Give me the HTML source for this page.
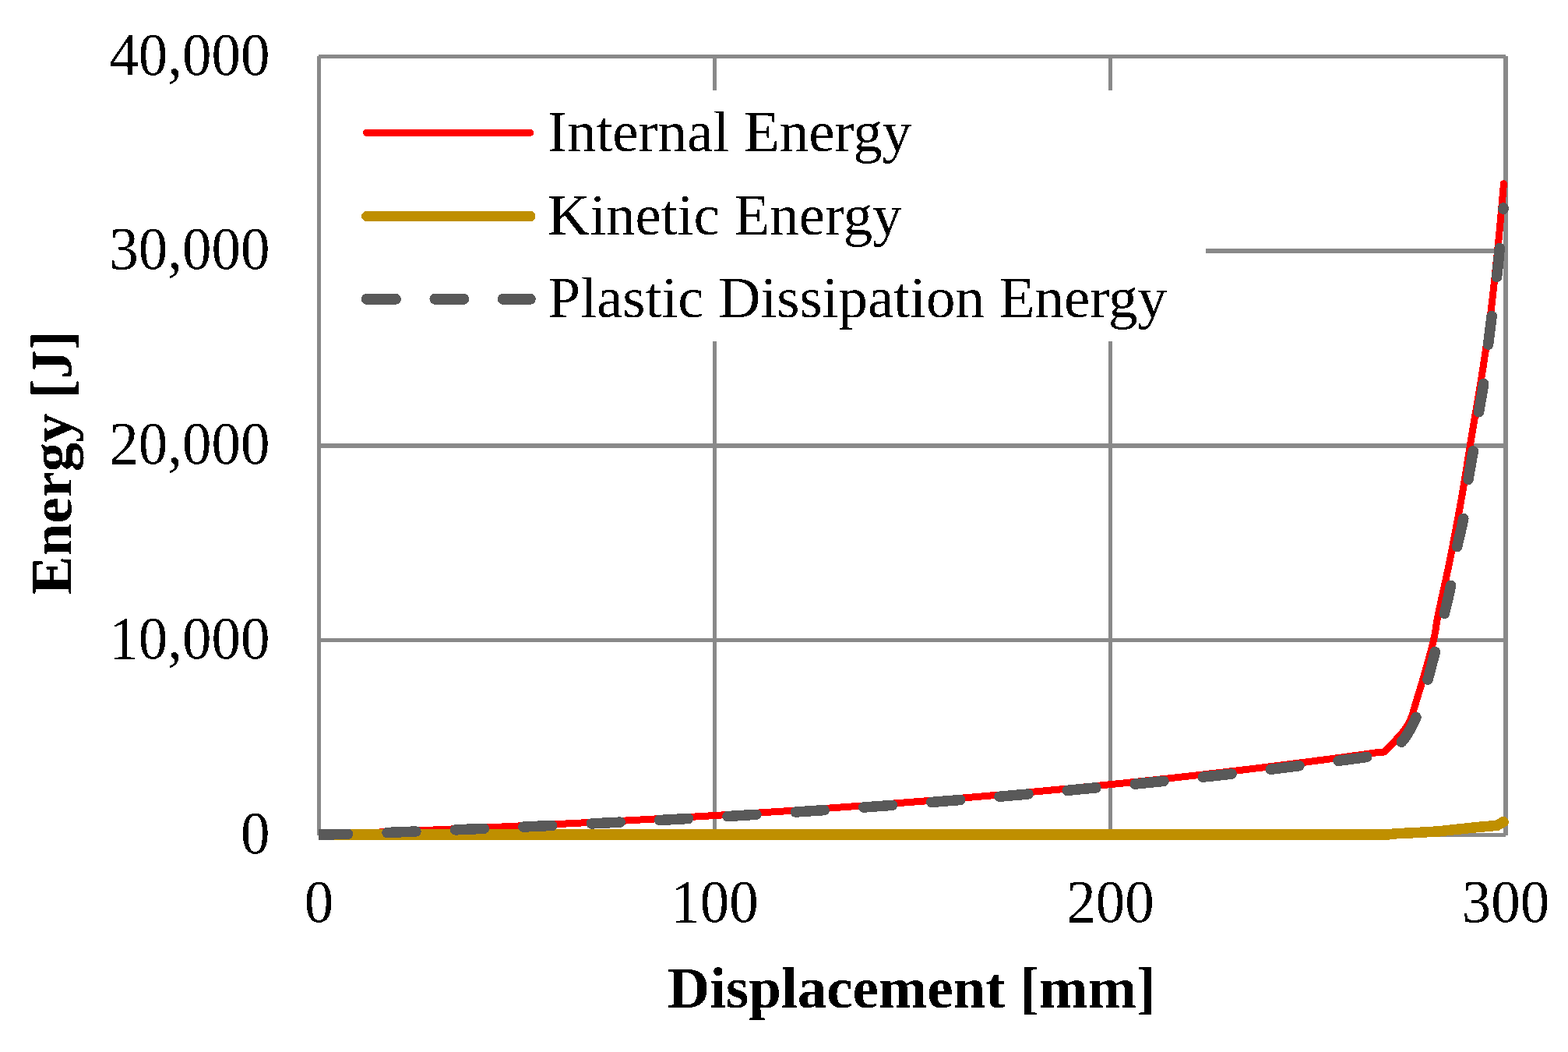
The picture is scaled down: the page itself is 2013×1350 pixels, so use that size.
<!DOCTYPE html>
<html><head><meta charset="utf-8"><title>Energy vs Displacement</title>
<style>html,body{margin:0;padding:0;background:#fff;}svg{display:block;}</style></head>
<body><svg width="2013" height="1350" viewBox="0 0 2013 1350">
<defs><filter id="crisp" x="0" y="0" width="2013" height="1350" filterUnits="userSpaceOnUse"><feComponentTransfer><feFuncA type="discrete" tableValues="0 1"/></feComponentTransfer></filter><clipPath id="pc"><rect x="409" y="0" width="1604" height="1350"/></clipPath></defs>
<rect width="2013" height="1350" fill="#fff"/>
<rect x="409" y="319" width="1524" height="6" fill="#898989"/>
<rect x="409" y="569" width="1524" height="6" fill="#898989"/>
<rect x="409" y="819" width="1524" height="5" fill="#898989"/>
<rect x="915" y="72" width="5" height="1000" fill="#898989"/>
<rect x="1423" y="72" width="5" height="1000" fill="#898989"/>
<rect x="409" y="70" width="1524" height="5" fill="#898989"/>
<rect x="409" y="1069" width="1524" height="5" fill="#898989"/>
<rect x="407" y="72" width="5" height="1000" fill="#898989"/>
<rect x="1930" y="72" width="6" height="1000" fill="#898989"/>
<rect x="412" y="116" width="1136" height="322" fill="#fff"/>
<g clip-path="url(#pc)" fill="none" stroke-linejoin="round" stroke-linecap="round" shape-rendering="crispEdges">
<polyline points="409.50,1071.25 421.50,1070.76 433.50,1070.26 445.50,1069.76 457.50,1069.26 469.50,1068.76 481.50,1068.25 493.50,1067.74 505.50,1067.23 517.50,1066.71 529.50,1066.19 541.50,1065.67 553.50,1065.14 565.50,1064.61 577.50,1064.07 589.50,1063.53 601.50,1062.99 613.50,1062.44 625.50,1061.88 637.50,1061.32 649.50,1060.76 661.50,1060.19 673.50,1059.62 685.50,1059.03 697.50,1058.45 709.50,1057.86 721.50,1057.26 733.50,1056.66 745.50,1056.05 757.50,1055.43 769.50,1054.81 781.50,1054.18 793.50,1053.54 805.50,1052.90 817.50,1052.25 829.50,1051.59 841.50,1050.92 853.50,1050.25 865.50,1049.57 877.50,1048.88 889.50,1048.19 901.50,1047.48 913.50,1046.77 925.50,1046.05 937.50,1045.32 949.50,1044.58 961.50,1043.84 973.50,1043.08 985.50,1042.31 997.50,1041.54 1009.50,1040.76 1021.50,1039.96 1033.50,1039.16 1045.50,1038.35 1057.50,1037.52 1069.50,1036.69 1081.50,1035.85 1093.50,1034.99 1105.50,1034.13 1117.50,1033.25 1129.50,1032.37 1141.50,1031.47 1153.50,1030.56 1165.50,1029.64 1177.50,1028.71 1189.50,1027.77 1201.50,1026.82 1213.50,1025.85 1225.50,1024.87 1237.50,1023.88 1249.50,1022.88 1261.50,1021.86 1273.50,1020.84 1285.50,1019.79 1297.50,1018.74 1309.50,1017.67 1321.50,1016.59 1333.50,1015.50 1345.50,1014.39 1357.50,1013.27 1369.50,1012.14 1381.50,1010.99 1393.50,1009.83 1405.50,1008.65 1417.50,1007.46 1429.50,1006.26 1441.50,1005.04 1453.50,1003.80 1465.50,1002.55 1477.50,1001.29 1489.50,1000.01 1501.50,998.71 1513.50,997.40 1525.50,996.07 1537.50,994.73 1549.50,993.37 1561.50,992.00 1573.50,990.61 1585.50,989.20 1597.50,987.78 1609.50,986.34 1621.50,984.88 1633.50,983.40 1645.50,981.91 1657.50,980.40 1669.50,978.88 1681.50,977.33 1693.50,975.77 1705.50,974.19 1717.50,972.60 1729.50,970.98 1741.50,969.35 1753.50,967.69 1765.50,966.02 1777.00,965.00 1778.38,963.60 1779.75,962.22 1781.12,960.87 1782.48,959.51 1783.85,958.15 1785.22,956.77 1786.60,955.35 1787.99,953.90 1789.39,952.38 1790.80,950.80 1792.54,948.84 1794.35,946.82 1796.21,944.74 1798.09,942.61 1799.96,940.42 1801.79,938.17 1803.57,935.86 1805.27,933.50 1806.85,931.08 1808.30,928.60 1809.65,925.96 1810.84,923.32 1811.89,920.64 1812.86,917.91 1813.76,915.10 1814.63,912.18 1815.51,909.14 1816.42,905.94 1817.41,902.57 1818.50,899.00 1820.49,892.57 1822.72,885.27 1825.11,877.29 1827.60,868.87 1830.10,860.23 1832.56,851.58 1834.90,843.14 1837.05,835.14 1838.94,827.78 1840.50,821.30 1841.27,817.82 1841.90,814.65 1842.44,811.71 1842.90,808.94 1843.32,806.25 1843.73,803.57 1844.15,800.82 1844.62,797.92 1845.16,794.81 1845.80,791.40 1846.93,785.78 1848.20,779.76 1849.57,773.40 1851.04,766.76 1852.56,759.88 1854.12,752.82 1855.70,745.64 1857.27,738.39 1858.81,731.12 1860.30,723.90 1861.96,715.63 1863.64,707.11 1865.34,698.41 1867.04,689.57 1868.73,680.66 1870.41,671.74 1872.05,662.87 1873.66,654.09 1875.21,645.49 1876.70,637.10 1877.97,629.76 1879.18,622.63 1880.34,615.63 1881.46,608.73 1882.56,601.86 1883.66,594.96 1884.76,587.98 1885.89,580.86 1887.07,573.56 1888.30,566.00 1889.85,556.65 1891.48,546.88 1893.18,536.80 1894.92,526.51 1896.67,516.13 1898.41,505.78 1900.11,495.55 1901.74,485.58 1903.28,475.95 1904.70,466.80 1905.77,459.78 1906.78,453.05 1907.74,446.53 1908.66,440.17 1909.55,433.90 1910.42,427.66 1911.27,421.39 1912.11,415.04 1912.95,408.53 1913.80,401.80 1914.76,393.95 1915.72,385.71 1916.68,377.22 1917.64,368.59 1918.57,359.96 1919.47,351.46 1920.33,343.22 1921.15,335.36 1921.91,328.01 1922.60,321.30 1923.01,317.35 1923.38,313.69 1923.72,310.27 1924.04,307.00 1924.34,303.84 1924.64,300.72 1924.94,297.57 1925.25,294.32 1925.56,290.92 1925.90,287.30 1926.34,282.57 1926.78,277.65 1927.24,272.58 1927.70,267.40 1928.16,262.13 1928.63,256.80 1929.10,251.45 1929.57,246.11 1930.04,240.82 1930.50,235.60" stroke="#FF0000" stroke-width="9"/>
<polyline points="409.50,1071.00 1781.00,1071.00 1792.00,1069.80 1819.60,1068.50 1849.30,1066.70 1860.00,1065.40 1898.00,1061.40 1922.00,1059.30 1930.10,1054.60" stroke="#BF8F00" stroke-width="13.5"/>
<polyline points="409.50,1071.25 421.50,1070.95 433.50,1070.64 445.50,1070.33 457.50,1070.02 469.50,1069.58 481.50,1069.11 493.50,1068.63 505.50,1068.15 517.50,1067.67 529.50,1067.18 541.50,1066.69 553.50,1066.20 565.50,1065.70 577.50,1065.19 589.50,1064.69 601.50,1064.17 613.50,1063.66 625.50,1063.13 637.50,1062.61 649.50,1062.08 661.50,1061.54 673.50,1061.00 685.50,1060.45 697.50,1059.90 709.50,1059.34 721.50,1058.77 733.50,1058.20 745.50,1057.62 757.50,1057.04 769.50,1056.45 781.50,1055.85 793.50,1055.25 805.50,1054.64 817.50,1054.02 829.50,1053.40 841.50,1052.76 853.50,1052.12 865.50,1051.48 877.50,1050.82 889.50,1050.16 901.50,1049.48 913.50,1048.78 925.50,1048.07 937.50,1047.34 949.50,1046.61 961.50,1045.87 973.50,1045.12 985.50,1044.37 997.50,1043.60 1009.50,1042.82 1021.50,1042.04 1033.50,1041.24 1045.50,1040.43 1057.50,1039.62 1069.50,1038.79 1081.50,1037.96 1093.50,1037.11 1105.50,1036.25 1117.50,1035.39 1129.50,1034.51 1141.50,1033.62 1153.50,1032.72 1165.50,1031.80 1177.50,1030.88 1189.50,1029.94 1201.50,1029.00 1213.50,1028.04 1225.50,1027.07 1237.50,1026.08 1249.50,1025.09 1261.50,1024.08 1273.50,1023.06 1285.50,1022.03 1297.50,1020.98 1309.50,1019.92 1321.50,1018.85 1333.50,1017.76 1345.50,1016.66 1357.50,1015.55 1369.50,1014.42 1381.50,1013.28 1393.50,1012.13 1405.50,1010.99 1417.50,1009.87 1429.50,1008.74 1441.50,1007.60 1453.50,1006.44 1465.50,1005.26 1477.50,1004.07 1489.50,1002.87 1501.50,1001.65 1513.50,1000.41 1525.50,999.16 1537.50,997.89 1549.50,996.61 1561.50,995.30 1573.50,993.96 1585.50,992.59 1597.50,991.21 1609.50,989.81 1621.50,988.39 1633.50,986.96 1645.50,985.51 1657.50,984.05 1669.50,982.56 1681.50,981.06 1693.50,979.54 1705.50,978.00 1717.50,976.45 1729.50,974.87 1741.50,973.28 1753.50,971.67 1760.00,970.50 1762.01,970.25 1764.04,970.06 1766.07,969.92 1768.11,969.79 1770.15,969.64 1772.17,969.44 1774.17,969.15 1776.15,968.76 1778.10,968.22 1780.00,967.50 1782.06,966.53 1784.10,965.42 1786.11,964.17 1788.10,962.79 1790.05,961.30 1791.97,959.69 1793.86,957.98 1795.71,956.17 1797.53,954.28 1799.30,952.30 1801.45,949.69 1803.54,946.89 1805.58,943.90 1807.57,940.76 1809.50,937.47 1811.37,934.07 1813.19,930.57 1814.95,927.00 1816.66,923.37 1818.30,919.70 1820.11,915.32 1821.81,910.71 1823.43,905.91 1824.96,900.99 1826.43,895.99 1827.84,890.97 1829.20,885.97 1830.52,881.06 1831.82,876.29 1833.10,871.70 1834.17,867.91 1835.19,864.23 1836.15,860.64 1837.09,857.10 1838.00,853.60 1838.90,850.09 1839.80,846.56 1840.71,842.97 1841.64,839.29 1842.60,835.50 1843.73,831.03 1844.88,826.42 1846.06,821.71 1847.24,816.93 1848.43,812.10 1849.61,807.27 1850.77,802.46 1851.91,797.71 1853.03,793.04 1854.10,788.50 1855.04,784.52 1855.97,780.63 1856.88,776.81 1857.77,773.03 1858.65,769.28 1859.51,765.52 1860.36,761.74 1861.19,757.91 1862.00,754.00 1862.80,750.00 1863.64,745.46 1864.44,740.80 1865.20,736.04 1865.93,731.23 1866.66,726.39 1867.38,721.54 1868.12,716.72 1868.87,711.95 1869.66,707.27 1870.50,702.70 1871.32,698.61 1872.19,694.62 1873.10,690.69 1874.02,686.82 1874.95,682.96 1875.88,679.10 1876.78,675.22 1877.64,671.29 1878.45,667.29 1879.20,663.20 1879.93,658.64 1880.58,653.96 1881.17,649.21 1881.72,644.40 1882.24,639.56 1882.75,634.72 1883.26,629.91 1883.80,625.15 1884.37,620.47 1885.00,615.90 1885.62,611.82 1886.26,607.83 1886.92,603.91 1887.60,600.03 1888.29,596.18 1888.98,592.32 1889.67,588.44 1890.36,584.51 1891.04,580.50 1891.70,576.40 1892.42,571.71 1893.13,566.88 1893.83,561.95 1894.53,556.95 1895.22,551.92 1895.92,546.91 1896.61,541.96 1897.30,537.09 1898.00,532.36 1898.70,527.80 1899.30,524.09 1899.91,520.51 1900.53,517.05 1901.14,513.66 1901.76,510.30 1902.37,506.93 1902.97,503.53 1903.56,500.05 1904.14,496.45 1904.70,492.70 1905.35,487.98 1905.98,483.05 1906.59,477.95 1907.19,472.74 1907.78,467.47 1908.35,462.19 1908.92,456.96 1909.48,451.84 1910.04,446.86 1910.60,442.10 1911.06,438.24 1911.51,434.53 1911.95,430.93 1912.39,427.39 1912.82,423.90 1913.26,420.40 1913.70,416.87 1914.15,413.27 1914.61,409.55 1915.10,405.70 1915.71,400.94 1916.35,395.99 1917.03,390.90 1917.71,385.70 1918.41,380.45 1919.10,375.20 1919.77,370.00 1920.42,364.88 1921.03,359.90 1921.60,355.10 1922.05,351.14 1922.46,347.32 1922.85,343.59 1923.23,339.93 1923.59,336.31 1923.94,332.68 1924.30,329.02 1924.65,325.29 1925.02,321.46 1925.40,317.50 1925.86,312.74 1926.32,307.85 1926.79,302.85 1927.26,297.77 1927.73,292.62 1928.21,287.44 1928.68,282.25 1929.16,277.06 1929.63,271.90 1930.10,266.80" stroke="#595959" stroke-width="13.5" stroke-dasharray="37 50.5"/>
</g>
<g fill="none" stroke-linecap="round" shape-rendering="crispEdges">
<line x1="470.6" y1="170.3" x2="681" y2="170.3" stroke="#FF0000" stroke-width="9"/>
<line x1="470.6" y1="277.5" x2="681" y2="277.5" stroke="#BF8F00" stroke-width="13"/>
<line x1="470.9" y1="383.8" x2="680.8" y2="383.8" stroke="#595959" stroke-width="14" stroke-dasharray="37 50.5"/>
</g>
<g font-family="Liberation Serif, Times New Roman, serif" font-size="75" fill="#000" filter="url(#crisp)">
<text x="703" y="194.1">Internal Energy</text>
<text x="703" y="300.6">Kinetic Energy</text>
<text x="703.5" y="406.8">Plastic Dissipation Energy</text>
<text transform="translate(346.5,95.80) scale(1,1.055)" text-anchor="end">40,000</text>
<text transform="translate(346.5,345.30) scale(1,1.055)" text-anchor="end">30,000</text>
<text transform="translate(346.5,595.05) scale(1,1.055)" text-anchor="end">20,000</text>
<text transform="translate(346.5,844.80) scale(1,1.055)" text-anchor="end">10,000</text>
<text transform="translate(346.5,1094.55) scale(1,1.055)" text-anchor="end">0</text>
<text transform="translate(409.5,1183) scale(1,1.055)" text-anchor="middle">0</text>
<text transform="translate(917.5,1183) scale(1,1.055)" text-anchor="middle">100</text>
<text transform="translate(1425.5,1183) scale(1,1.055)" text-anchor="middle">200</text>
<text transform="translate(1933,1183) scale(1,1.055)" text-anchor="middle">300</text>
<text x="857" y="1292.8" font-weight="bold">Displacement [mm]</text>
<text transform="translate(91.5,763.5) rotate(-90)" font-weight="bold">Energy [J]</text>
</g>
</svg></body></html>
